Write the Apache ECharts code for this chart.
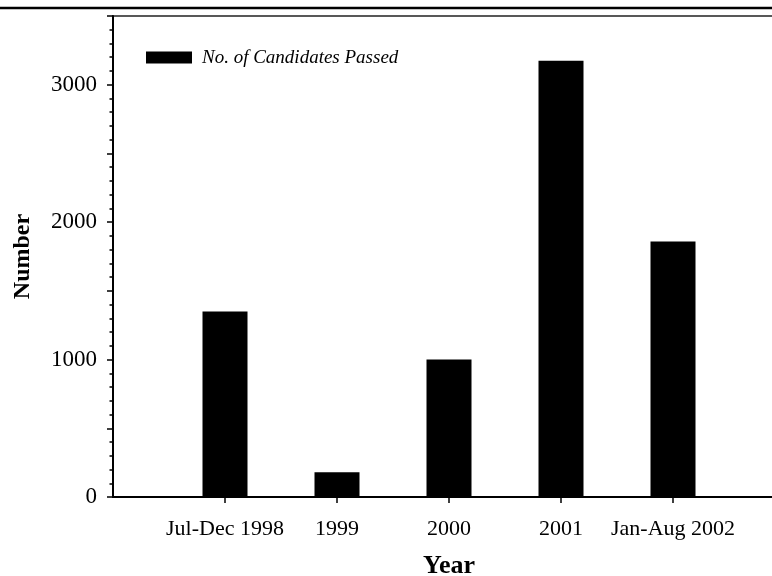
<!DOCTYPE html>
<html>
<head>
<meta charset="utf-8">
<script src="https://cdn.jsdelivr.net/npm/echarts@6/dist/echarts.min.js"></script>
<style>
  html, body { margin: 0; padding: 0; background: #fff; }
  #chart { width: 772px; height: 576px; }
</style>
</head>
<body>
<div id="chart"></div>
<script>
// periods on the x axis
var years = ["Jul-Dec 1998", "1999", "2000", "2001", "Jan-Aug 2002"];
// no. of candidates passed
var passed = [1350, 180, 1000, 3175, 1860];
var yTickLabels = [0, 1000, 2000, 3000];

// one empty slot each side so the bars sit on ticks like the original
var xCats = [""].concat(years, [""]);
var barData = ["-"].concat(passed, ["-"]);

var font = "Liberation Serif, Times New Roman, serif";

var myChart = echarts.init(document.getElementById("chart"));
var option = {
  animation: false,
  backgroundColor: "#fff",
  graphic: [
    {
      type: "line",
      shape: { x1: 0, y1: 8, x2: 772, y2: 8 },
      style: { stroke: "#000", lineWidth: 2.5 }
    }
  ],
  legend: {
    left: 141,
    top: 43,
    itemWidth: 46,
    itemHeight: 12,
    icon: "rect",
    textStyle: {
      fontFamily: font,
      fontStyle: "italic",
      fontSize: 19,
      color: "#000",
      padding: [0, 0, 0, 5]
    }
  },
  grid: {
    left: 113,
    top: 16,
    width: 672,
    bottom: 79,
    outerBoundsMode: "none",
    show: true,
    borderColor: "#222",
    borderWidth: 1.5
  },
  xAxis: {
    type: "category",
    data: xCats,
    boundaryGap: false,
    name: "Year",
    nameLocation: "middle",
    nameGap: 56,
    nameTextStyle: { fontFamily: font, fontWeight: "bold", fontSize: 26, color: "#000" },
    axisLine: { lineStyle: { color: "#000", width: 2 } },
    axisTick: {
      length: 6,
      interval: function (i, v) { return v !== ""; },
      lineStyle: { color: "#000", width: 1.5 }
    },
    axisLabel: {
      interval: 0,
      margin: 21,
      fontFamily: font,
      fontSize: 22,
      color: "#000"
    },
    splitLine: { show: false }
  },
  yAxis: {
    type: "value",
    min: 0,
    max: 3500,
    interval: 500,
    name: "Number",
    nameLocation: "middle",
    nameGap: 78,
    nameTextStyle: { fontFamily: font, fontWeight: "bold", fontSize: 24, color: "#000" },
    axisLine: { show: true, lineStyle: { color: "#000", width: 2 } },
    axisTick: { show: true, length: 6, lineStyle: { color: "#000", width: 1.5 } },
    minorTick: { show: true, splitNumber: 5, length: 3.5, lineStyle: { color: "#000", width: 1.5 } },
    axisLabel: {
      margin: 16,
      fontFamily: font,
      fontSize: 23,
      color: "#000",
      showMaxLabel: false,
      formatter: function (v) { return yTickLabels.indexOf(v) >= 0 ? String(v) : ""; }
    },
    splitLine: { show: false }
  },
  series: [
    {
      name: "No. of Candidates Passed",
      type: "bar",
      data: barData,
      barWidth: 45,
      itemStyle: { color: "#000" }
    }
  ]
};
myChart.setOption(option);
</script>
</body>
</html>
